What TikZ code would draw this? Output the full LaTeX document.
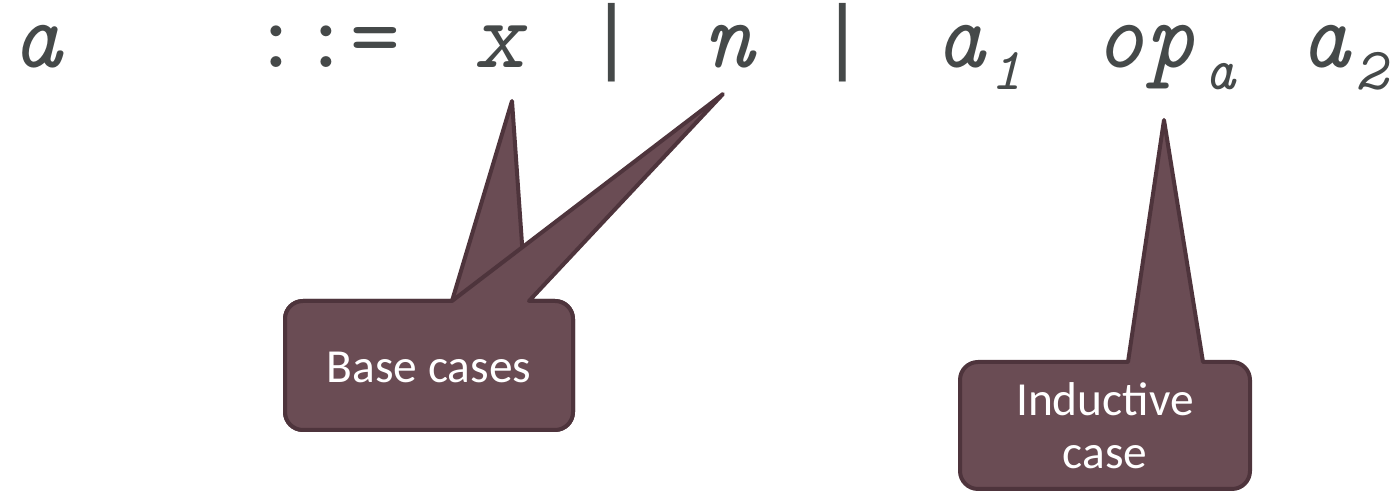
\documentclass[tikz,border=0pt]{standalone}
\usepackage{fontspec}
\newfontfamily\calloutfont{Carlito}
\newfontfamily\barfont{Liberation Mono}
\definecolor{grammarink}{HTML}{454949}
\definecolor{calloutfill}{HTML}{6A4C54}
\definecolor{calloutline}{HTML}{4E343C}

\begin{document}
\begin{tikzpicture}[x=.02cm,y=.02cm,
    gram/.style={anchor=base,inner sep=0,text=grammarink,
      font=\fontsize{55}{55}\selectfont\ttfamily\itshape},
    gramup/.style={gram,font=\fontsize{55}{55}\selectfont\ttfamily},
    gramsl/.style={gram,font=\fontsize{55}{55}\selectfont\ttfamily\slshape},
    grambar/.style={gram,font=\fontsize{48}{48}\selectfont\barfont},
    gramsub/.style={anchor=base,inner sep=0,text=grammarink,
      font=\fontsize{34}{34}\selectfont\ttfamily\itshape},
    callout/.style={fill=calloutfill,draw=calloutline,line width=.08cm,line join=round},
    callouttext/.style={text=white,align=center,inner sep=0,
      font=\fontsize{27}{30}\selectfont\calloutfont}]
        \useasboundingbox (0,0) rectangle (1397,492);

        % the grammar line
        \node[gram] (lhs) at (37,424) {a};
        \node[gramup] (def) at (326,424) {::=};
        \node[gramsl] (var) at (500,424) {x};
        \node[grambar] (bar1) at (612,427) {|};
        \node[gram] (num) at (729,424) {n};
        \node[grambar] (bar2) at (843,427) {|};
        \node[gram] (aone) at (960,424) {a};
        \node[gramsub] (one) at (1006,402) {1};
        \node[gram] (op) at (1145,424) {op};
        \node[gramsub] (opa) at (1220,402) {a};
        \node[gram] (atwo) at (1325,424) {a};
        \node[gramsub] (two) at (1371,402) {2};

        % base cases: two pointers on one box
        \draw[callout] (452,191) -- (512,391) -- (526,191) -- (555,191)
          arc[start angle=90,end angle=0,radius=18] -- (573,80)
          arc[start angle=0,end angle=-90,radius=18] -- (303,62)
          arc[start angle=270,end angle=180,radius=18] -- (285,173)
          arc[start angle=180,end angle=90,radius=18] -- cycle;
        \draw[callout] (452,191) -- (723,398) -- (529,191) -- (555,191)
          arc[start angle=90,end angle=0,radius=18] -- (573,80)
          arc[start angle=0,end angle=-90,radius=18] -- (303,62)
          arc[start angle=270,end angle=180,radius=18] -- (285,173)
          arc[start angle=180,end angle=90,radius=18] -- cycle;
        \node[callouttext,anchor=base] (basecases) at (429,109) {Base cases};

        % inductive case
        \draw[callout] (1128,130) -- (1164,372) -- (1203,130) -- (1232,130)
          arc[start angle=90,end angle=0,radius=18] -- (1250,21)
          arc[start angle=0,end angle=-90,radius=18] -- (978,3)
          arc[start angle=270,end angle=180,radius=18] -- (960,112)
          arc[start angle=180,end angle=90,radius=18] -- cycle;
        \node[callouttext] (inductive) at (1105,66) {Inductive\\case};
      \end{tikzpicture}
\end{document}
